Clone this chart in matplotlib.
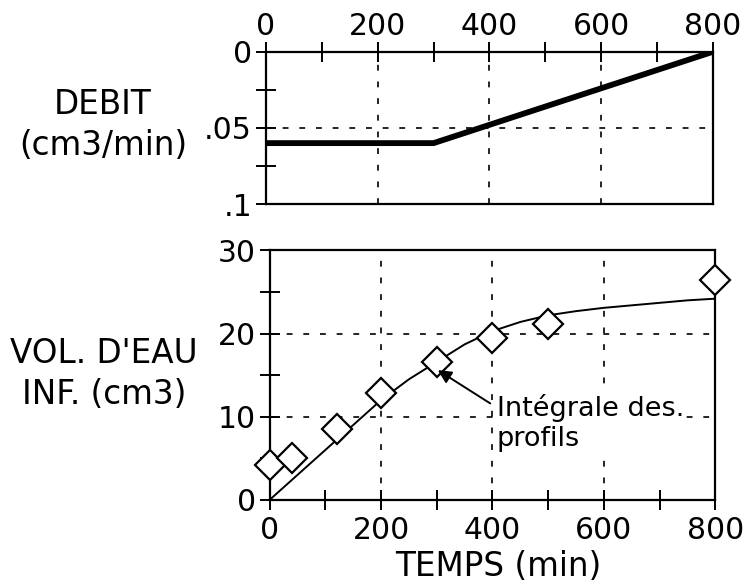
import matplotlib
matplotlib.use("Agg")
import matplotlib.pyplot as plt
from matplotlib.ticker import FixedLocator

plt.rcParams['font.family'] = ['DejaVu Sans']

# Flow rate (debit) versus time
debit_t = [0, 300, 800]
debit_q = [0.06, 0.06, 0.0]

# Infiltrated water volume: measured points
vol_t = [0, 40, 120, 200, 300, 400, 500, 800]
vol_v = [4.2, 5.0, 8.5, 12.8, 16.6, 19.5, 21.1, 26.5]

# Integral of the profiles
integ_t = [0, 100, 200, 250, 300, 350, 400, 450, 500, 550, 600, 650, 700, 750, 800]
integ_v = [0, 6.0, 12.0, 14.5, 16.6, 18.7, 20.3, 21.4, 22.2, 22.7, 23.1, 23.4, 23.7, 24.0, 24.2]

x_ticks = [0, 100, 200, 300, 400, 500, 600, 700, 800]
x_labels = ['0', '', '200', '', '400', '', '600', '', '800']

fig = plt.figure(figsize=(7.45, 5.88), dpi=100)
ax1 = fig.add_axes([0.357, 0.653, 0.600, 0.259])
ax2 = fig.add_axes([0.362, 0.150, 0.598, 0.424])

FS = 21.5
LFS = 23.5
grid_kw = dict(color='black', lw=1.2, ls=(0, (3.5, 6.5)))

for ax in (ax1, ax2):
    for s in ax.spines.values():
        s.set_linewidth(1.6)
    ax.set_xlim(0, 800)
    ax.tick_params(direction='inout', length=14, width=1.4, labelsize=FS, pad=3)

# Top panel: flow rate
ax1.plot(debit_t, debit_q, color='black', lw=4.2, solid_capstyle='round')
ax1.set_ylim(0.1, 0.0)
ax1.xaxis.tick_top()
ax1.xaxis.set_major_locator(FixedLocator(x_ticks))
ax1.set_xticklabels(x_labels)
ax1.tick_params(axis='x', pad=0.5)
ax1.set_yticks([0, 0.025, 0.05, 0.075, 0.1])
ax1.set_yticklabels(['0', '', '.05', '', '.1'])
for x in [200, 400, 600]:
    ax1.axvline(x, **grid_kw)
ax1.axhline(0.05, **grid_kw)

# Bottom panel: infiltrated volume
ax2.plot(integ_t, integ_v, color='black', lw=1.4)
ax2.plot(vol_t, vol_v, ls='none', marker='D', ms=15, mfc='white',
         mec='black', mew=1.6, clip_on=False, zorder=5)
ax2.set_ylim(0, 30)
ax2.xaxis.set_major_locator(FixedLocator(x_ticks))
ax2.set_xticklabels(x_labels)
ax2.tick_params(axis='x', pad=5)
ax2.set_yticks([0, 5, 10, 15, 20, 25, 30])
ax2.set_yticklabels(['0', '', '10', '', '20', '', '30'])
for x in [200, 400, 600]:
    ax2.axvline(x, **grid_kw)
for y in [10, 20]:
    ax2.axhline(y, **grid_kw)

ax2.text(408, 9.3, 'Intégrale des.\nprofils', fontsize=19.5, ha='left',
         va='center', linespacing=1.2, zorder=6,
         bbox=dict(boxstyle='square,pad=0.05', fc='white', ec='none'))
ax2.annotate('', xy=(302, 15.6), xytext=(396, 11.6),
             arrowprops=dict(arrowstyle='-|>', color='black', lw=1.4,
                             mutation_scale=20, shrinkA=0, shrinkB=0),
             zorder=7)

# Axis titles
fig.text(103 / 745, 1 - 125 / 588, 'DEBIT\n(cm3/min)', fontsize=LFS,
         ha='center', va='center', linespacing=1.3)
fig.text(104 / 745, 1 - 374 / 588, "VOL. D'EAU\nINF. (cm3)", fontsize=LFS,
         ha='center', va='center', linespacing=1.3)
fig.text(498 / 745, 1 - 566 / 588, 'TEMPS (min)', fontsize=LFS,
         ha='center', va='center')

fig.savefig('out.png', dpi=100)
